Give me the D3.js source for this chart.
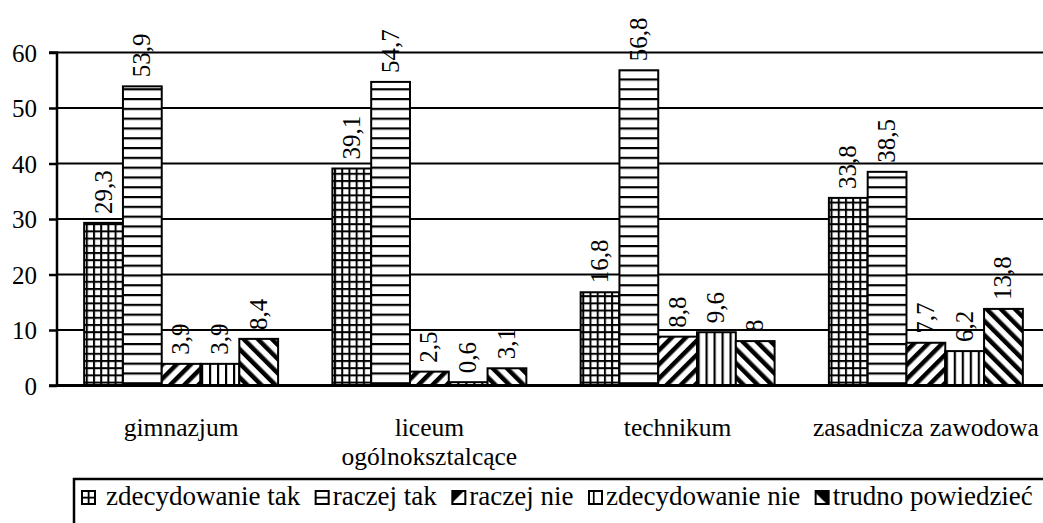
<!DOCTYPE html>
<html><head><meta charset="utf-8"><script src="https://cdn.jsdelivr.net/npm/d3@7"></script></head>
<body style="margin:0">
<svg id="chart" width="1043" height="523" font-family="Liberation Serif"></svg>
<script>
// Survey answers by school type (percent)
const categories = ["gimnazjum", "liceum ogólnoksztalcące", "technikum", "zasadnicza zawodowa"];
const categoryLines = [["gimnazjum"], ["liceum", "ogólnoksztalcące"], ["technikum"], ["zasadnicza zawodowa"]];
const seriesNames = ["zdecydowanie tak", "raczej tak", "raczej nie", "zdecydowanie nie", "trudno powiedzieć"];
const zdecydowanieTak = [29.3, 39.1, 16.8, 33.8];
const raczejTak = [53.9, 54.7, 56.8, 38.5];
const raczejNie = [3.9, 2.5, 8.8, 7.7];
const zdecydowanieNie = [3.9, 0.6, 9.6, 6.2];
const trudnoPowiedziec = [8.4, 3.1, 8, 13.8];
const yTicks = [0, 10, 20, 30, 40, 50, 60];

const seriesValues = [zdecydowanieTak, raczejTak, raczejNie, zdecydowanieNie, trudnoPowiedziec];
const patternIds = ["p-grid", "p-hlines", "p-fwd", "p-vlines", "p-back"];
const legendIds = ["l-grid", "l-hlines", "l-fwd", "l-vlines", "l-back"];
const FONT = "Liberation Serif";

const svg = d3.select("#chart");
const defs = svg.append("defs");

// Fill patterns for the bars
function pattern(id, w, h, transform) {
  const p = defs.append("pattern").attr("id", id)
    .attr("patternUnits", "userSpaceOnUse").attr("width", w).attr("height", h);
  if (transform) p.attr("patternTransform", transform);
  p.append("rect").attr("width", w).attr("height", h).attr("fill", "#fff");
  return p;
}
let p = pattern("p-grid", 7.2, 7.2);
p.append("rect").attr("x", 0).attr("y", 0).attr("width", 2).attr("height", 7.2).attr("fill", "#000");
p.append("rect").attr("x", 0).attr("y", 0).attr("width", 7.2).attr("height", 2).attr("fill", "#000");
p = pattern("p-hlines", 10, 9.8);
p.append("rect").attr("x", 0).attr("y", 0).attr("width", 10).attr("height", 2.2).attr("fill", "#000");
p = pattern("p-vlines", 8, 10);
p.append("rect").attr("x", 0).attr("y", 0).attr("width", 2.2).attr("height", 10).attr("fill", "#000");
p = pattern("p-fwd", 10, 10, "rotate(45)");
p.append("rect").attr("x", 0).attr("y", 0).attr("width", 4.5).attr("height", 10).attr("fill", "#000");
p = pattern("p-back", 10, 10, "rotate(-45)");
p.append("rect").attr("x", 0).attr("y", 0).attr("width", 4.5).attr("height", 10).attr("fill", "#000");

// Small swatch fills for the legend
function lpat(id) {
  const q = defs.append("pattern").attr("id", id)
    .attr("patternContentUnits", "objectBoundingBox").attr("width", 1).attr("height", 1);
  q.append("rect").attr("width", 1).attr("height", 1).attr("fill", "#fff");
  return q;
}
let q = lpat("l-grid");
q.append("rect").attr("x", 0.44).attr("y", 0).attr("width", 0.14).attr("height", 1).attr("fill", "#000");
q.append("rect").attr("x", 0).attr("y", 0.44).attr("width", 1).attr("height", 0.14).attr("fill", "#000");
q = lpat("l-hlines");
q.append("rect").attr("x", 0).attr("y", 0.44).attr("width", 1).attr("height", 0.14).attr("fill", "#000");
q = lpat("l-vlines");
q.append("rect").attr("x", 0.3).attr("y", 0).attr("width", 0.13).attr("height", 1).attr("fill", "#000");
q = lpat("l-fwd");
q.append("path").attr("d", "M0,0 L0.9,0 L0,0.9 Z").attr("fill", "#000");
q = lpat("l-back");
q.append("path").attr("d", "M0,0 L1,0 L1,1 L0.85,1 L0,0.15 Z").attr("fill", "#000");

// Scales
const plotLeft = 57, plotRight = 1050, plotTop = 52.5, plotBottom = 385.5;
const x0 = d3.scaleBand().domain(categories).range([plotLeft, plotRight]).paddingInner(0).paddingOuter(0);
const x1 = d3.scaleBand().domain(seriesNames).range([0, x0.bandwidth()]).paddingInner(0).paddingOuter(0.7);
const y = d3.scaleLinear().domain([0, 60]).range([plotBottom, plotTop]);

// Horizontal gridlines
svg.append("g").selectAll("line").data(yTicks.filter(t => t > 0)).join("line")
  .attr("x1", plotLeft).attr("x2", 1043)
  .attr("y1", d => y(d)).attr("y2", d => y(d))
  .attr("stroke", "#000").attr("stroke-width", 2);

// Bars with rotated value labels
const groups = svg.append("g").selectAll("g").data(categories).join("g")
  .attr("transform", d => `translate(${x0(d)},0)`);
groups.each(function (cat, ci) {
  const g = d3.select(this);
  seriesNames.forEach((s, si) => {
    const v = seriesValues[si][ci];
    g.append("rect")
      .attr("x", x1(s)).attr("width", x1.bandwidth())
      .attr("y", y(v)).attr("height", y(0) - y(v))
      .attr("fill", `url(#${patternIds[si]})`)
      .attr("stroke", "#000").attr("stroke-width", 2);
    g.append("text")
      .attr("transform", `translate(${x1(s) + x1.bandwidth() / 2 + 8},${y(v) - 9}) rotate(-90)`)
      .attr("font-family", FONT).attr("font-size", 25).attr("fill", "#000")
      .text(String(v).replace(".", ","));
  });
});

// Y axis
const yAxis = d3.axisLeft(y).tickValues(yTicks).tickSize(8).tickPadding(12).tickFormat(d => d);
const ya = svg.append("g").attr("transform", `translate(${plotLeft},0)`).call(yAxis)
  .attr("font-family", FONT);
ya.select(".domain").attr("stroke", "#000").attr("stroke-width", 2.5).attr("d", `M-8,${plotTop}H0V${plotBottom}H-8`);
ya.selectAll(".tick line").attr("stroke", "#000").attr("stroke-width", 2.5);
ya.selectAll(".tick text").attr("font-size", 25).attr("font-family", FONT).attr("fill", "#000").attr("dy", "0.34em");

// Baseline
svg.append("line").attr("x1", plotLeft).attr("x2", 1043)
  .attr("y1", y(0)).attr("y2", y(0)).attr("stroke", "#000").attr("stroke-width", 3);

// Category labels
svg.append("g").selectAll("text").data(categories).join("text")
  .attr("x", d => x0(d) + x0.bandwidth() / 2)
  .attr("y", 436)
  .attr("text-anchor", "middle").attr("font-size", 25.5).attr("font-family", FONT).attr("fill", "#000")
  .each(function (d, i) {
    const t = d3.select(this);
    categoryLines[i].forEach((line, li) => {
      t.append("tspan").attr("x", x0(d) + x0.bandwidth() / 2).attr("dy", li === 0 ? 0 : 29).text(line);
    });
  });

// Legend
const legend = svg.append("g");
legend.append("rect").attr("x", 74).attr("y", 479).attr("width", 1000).attr("height", 80)
  .attr("fill", "#fff").attr("stroke", "#000").attr("stroke-width", 2.5);
let lx = 82;
seriesNames.forEach((s, i) => {
  legend.append("rect").attr("x", lx).attr("y", 491).attr("width", 13).attr("height", 13)
    .attr("fill", `url(#${legendIds[i]})`).attr("stroke", "#000").attr("stroke-width", 2);
  const tx = lx + (i === 0 ? 24 : 17);
  const t = legend.append("text").attr("x", tx).attr("y", 505)
    .attr("font-family", FONT).attr("font-size", 27).attr("fill", "#000").text(s);
  lx = tx + t.node().getComputedTextLength() + 15.5;
});
</script>
</body>
</html>
